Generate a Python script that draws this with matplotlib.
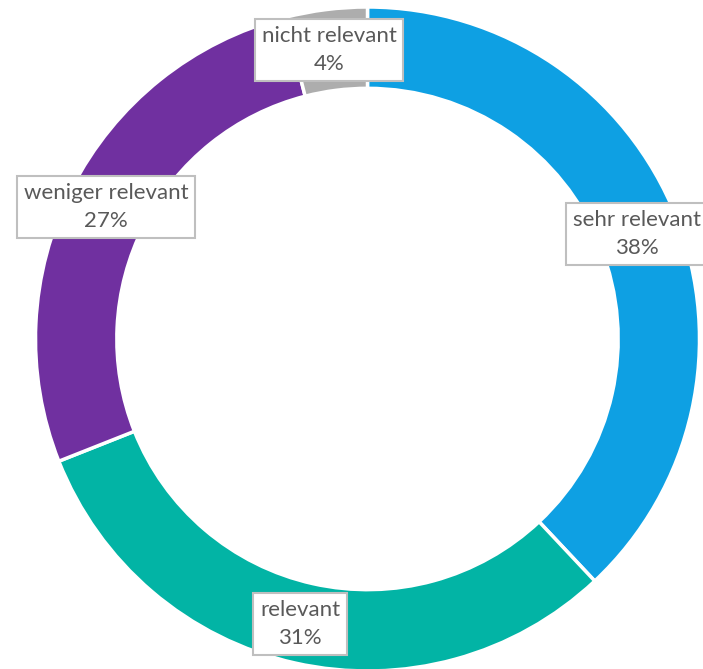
import matplotlib
matplotlib.use('Agg')
import matplotlib.pyplot as plt

# data
categories = ["sehr relevant", "relevant", "weniger relevant", "nicht relevant"]
values = [38, 31, 27, 4]
colors = ["#0EA0E3", "#02B4A5", "#7030A0", "#ADADAD"]

# label box centres in pixel coords (x, y from top)
label_pos = [(637, 234), (300, 624), (106, 207), (329, 50)]

W, H = 703, 669
fig = plt.figure(figsize=(W / 100, H / 100), dpi=100)
ax = fig.add_axes([0, 0, 1, 1])

cx, cy, r = 367.5, H - 339, 332
ax.pie(values, colors=colors, startangle=90, counterclock=False,
       center=(cx, cy), radius=r, frame=True,
       wedgeprops=dict(width=r * 0.245, edgecolor='white', linewidth=2.5))
ax.set_xlim(0, W)
ax.set_ylim(0, H)
ax.set_aspect('equal')
ax.axis('off')

for name, v, (x, y) in zip(categories, values, label_pos):
    ax.text(x, H - y, f"{name}\n{v}%", ha='center', va='center',
            fontsize=16, family=['Lato', 'DejaVu Sans'], color='#595959',
            linespacing=1.55,
            bbox=dict(boxstyle='square,pad=0.3', fc='white', ec='#BFBFBF', lw=1.5))

fig.savefig('out.png', dpi=100)
plt.close(fig)
